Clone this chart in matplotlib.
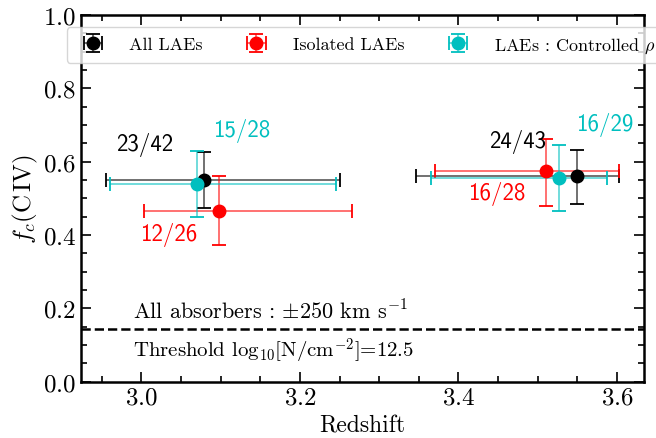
import numpy as np
import matplotlib.pyplot as plt

plt.rcParams['font.family'] = 'cmr10'
plt.rcParams['mathtext.fontset'] = 'cm'
plt.rcParams['axes.unicode_minus'] = False
plt.rcParams['axes.formatter.use_mathtext'] = True

# two redshift bins, three samples
z_all = [3.079, 3.550]
z_all_lo = [0.123, 0.203]
z_all_hi = [0.171, 0.052]
fc_all = [0.551, 0.560]
fc_all_lo = [0.078, 0.076]
fc_all_hi = [0.074, 0.072]
lab_all = ['23/42', '24/43']

z_iso = [3.098, 3.511]
z_iso_lo = [0.094, 0.141]
z_iso_hi = [0.168, 0.091]
fc_iso = [0.464, 0.575]
fc_iso_lo = [0.092, 0.095]
fc_iso_hi = [0.098, 0.087]
lab_iso = ['12/26', '16/28']

z_rho = [3.070, 3.527]
z_rho_lo = [0.109, 0.162]
z_rho_hi = [0.176, 0.060]
fc_rho = [0.539, 0.554]
fc_rho_lo = [0.091, 0.088]
fc_rho_hi = [0.091, 0.091]
lab_rho = ['15/28', '16/29']

# label positions (data coords)
lab_all_xy = [(3.004, 0.648), (3.475, 0.657)]
lab_iso_xy = [(3.034, 0.402), (3.448, 0.514)]
lab_rho_xy = [(3.126, 0.687), (3.584, 0.703)]

threshold = 0.142

fig = plt.figure(figsize=(6.56, 4.39), dpi=100)
ax = fig.add_axes([0.1235, 0.1287, 0.8582, 0.8349])

def draw(z, zlo, zhi, fc, flo, fhi, color, label):
    eb = ax.errorbar(z, fc, xerr=[zlo, zhi], yerr=[flo, fhi], fmt='o', color=color,
                     ms=9, capsize=5, elinewidth=1.3, capthick=1.3, label=label)
    for c in eb[2]:
        c.set_alpha(0.6)
    return eb

draw(z_all, z_all_lo, z_all_hi, fc_all, fc_all_lo, fc_all_hi, 'k', 'All LAEs')
draw(z_iso, z_iso_lo, z_iso_hi, fc_iso, fc_iso_lo, fc_iso_hi, 'r', 'Isolated LAEs')
draw(z_rho, z_rho_lo, z_rho_hi, fc_rho, fc_rho_lo, fc_rho_hi, 'c', r'LAEs : Controlled $\rho$')

for labs, xy, col in [(lab_all, lab_all_xy, 'k'), (lab_iso, lab_iso_xy, 'r'), (lab_rho, lab_rho_xy, 'c')]:
    for s, (x, y) in zip(labs, xy):
        ax.text(x, y, s, color=col, family='cmss10', fontsize=16.5, ha='center', va='center')

ax.axhline(threshold, color='k', ls='--', lw=1.8)
ax.text(2.989, 0.193, r'All absorbers : $\pm\mathsf{250}$ km s$^{-1}$', fontsize=16, va='center')
ax.text(2.989, 0.084, r'Threshold log$_{10}$[N/cm$^{-2}$]=$\mathsf{12.5}$', fontsize=15, va='center')

ax.set_xlim(2.924, 3.634)
ax.set_ylim(0, 1.0)
ax.set_xticks([3.0, 3.2, 3.4, 3.6])
ax.set_yticks([0.0, 0.2, 0.4, 0.6, 0.8, 1.0])
ax.minorticks_on()
ax.tick_params(which='both', direction='in', top=True, right=True, labelsize=18, width=1.2)
ax.tick_params(which='major', length=7)
ax.tick_params(which='minor', length=4)
for sp in ax.spines.values():
    sp.set_linewidth(1.8)

ax.set_xlabel('Redshift', fontsize=17)
ax.set_ylabel(r'$f_c(\mathrm{C\,IV})$', fontsize=18, labelpad=2)

ax.legend(loc='upper center', bbox_to_anchor=(0.505, 0.977), ncol=3, fontsize=13,
          columnspacing=2.0, handletextpad=1.0, borderpad=0.45, borderaxespad=0.2,
          framealpha=0.8)

fig.savefig('out.png', dpi=100)
